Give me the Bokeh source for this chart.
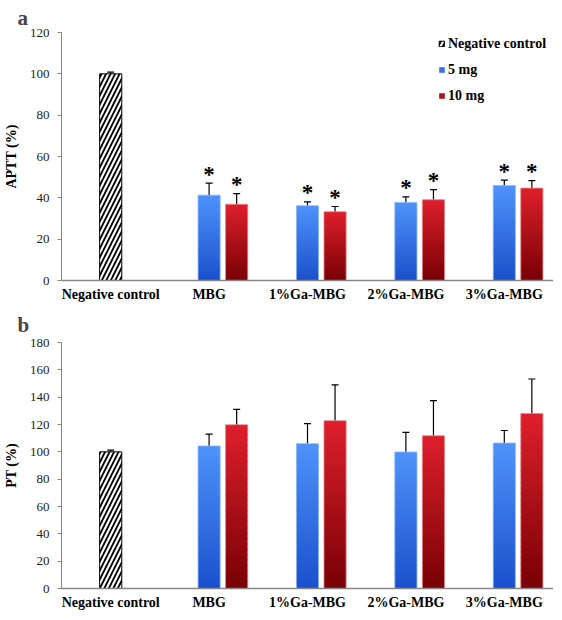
from bokeh.plotting import figure
from bokeh.models import (ColumnDataSource, FactorRange, Whisker, TeeHead, Legend,
                          LegendItem, FixedTicker)
from bokeh.transform import dodge
from bokeh.layouts import column
from bokeh.core.properties import value
from bokeh.embed import file_html
from bokeh.resources import INLINE

# ---------------- data ----------------
categories = ["Negative control", "MBG", "1%Ga-MBG", "2%Ga-MBG", "3%Ga-MBG"]
groups = ["MBG", "1%Ga-MBG", "2%Ga-MBG", "3%Ga-MBG"]
series_names = ["Negative control", "5 mg", "10 mg"]

neg_aptt = 100.0
neg_aptt_err = 0.8
aptt_5mg = [41.3, 36.2, 37.8, 46.0]
aptt_5mg_err = [5.8, 1.8, 2.7, 2.6]
aptt_10mg = [36.9, 33.3, 39.1, 44.7]
aptt_10mg_err = [5.1, 2.5, 4.9, 3.6]

neg_pt = 100.0
neg_pt_err = 1.2
pt_5mg = [104.3, 106.0, 99.9, 106.4]
pt_5mg_err = [8.7, 14.6, 14.4, 9.2]
pt_10mg = [119.8, 122.8, 111.8, 128.1]
pt_10mg_err = [11.2, 26.2, 25.7, 25.2]

aptt_ticks = [0, 20, 40, 60, 80, 100, 120]
pt_ticks = [0, 20, 40, 60, 80, 100, 120, 140, 160, 180]

# ---------------- styling ----------------
FONT = "Liberation Serif"
BLUE_TOP, BLUE_BOT = (0x4F, 0x93, 0xFA), (0x1A, 0x50, 0xCC)
RED_TOP, RED_BOT = (0xDE, 0x20, 0x2C), (0x78, 0x00, 0x04)
BAR_W = 0.225
RED_OFF = 0.28
N_SLICES = 30


def mix(c_bot, c_top, t):
    r = [round(a + (b - a) * t) for a, b in zip(c_bot, c_top)]
    return "#%02x%02x%02x" % tuple(r)


def gradient_source(cats, vals, top_c, bot_c):
    xs, bottoms, tops, cols = [], [], [], []
    for c, v in zip(cats, vals):
        for k in range(N_SLICES):
            xs.append(c)
            bottoms.append(v * k / N_SLICES)
            tops.append(min(v, v * (k + 1.4) / N_SLICES))
            cols.append(mix(bot_c, top_c, (k + 0.5) / N_SLICES))
    return ColumnDataSource(dict(x=xs, bottom=bottoms, top=tops, color=cols))


def make_panel(letter, ylabel, ymax, ticks, neg, neg_err, v5, e5, v10, e10,
               frame_h, title_standoff, stars, legend):
    p = figure(x_range=FactorRange(*categories), y_range=(0, ymax),
               frame_width=492, frame_height=frame_h, output_backend="svg",
               toolbar_location=None, min_border_left=52, min_border_right=0,
               min_border_top=0, min_border_bottom=0)
    p.title.text = letter
    p.title.text_font = FONT
    p.title.text_font_size = "21px"
    p.title.text_font_style = "bold"
    p.title.align = "left"
    p.title.offset = -44
    p.title.standoff = title_standoff

    # negative control (hatched)
    r_neg = p.vbar(x=[categories[0]], top=[neg], width=BAR_W, fill_color="white",
                   line_color="black", line_width=1, hatch_pattern="/",
                   hatch_color="black", hatch_scale=9, hatch_weight=1.8)

    # gradient bars
    s5 = gradient_source(groups, v5, BLUE_TOP, BLUE_BOT)
    s10 = gradient_source(groups, v10, RED_TOP, RED_BOT)
    r5 = p.vbar(x="x", bottom="bottom", top="top", width=BAR_W, source=s5,
                fill_color="color", line_color=None)
    r10 = p.vbar(x=dodge("x", RED_OFF, range=p.x_range), bottom="bottom", top="top",
                 width=BAR_W, source=s10, fill_color="color", line_color=None)
    # light edges
    p.vbar(x=groups, top=v5, width=BAR_W, fill_color=None,
           line_color="#8fb8f6", line_width=1, line_alpha=0.8)
    p.vbar(x=dodge("x", RED_OFF, range=p.x_range), top="top", width=BAR_W,
           fill_color=None, line_color="#e68a8e", line_width=1, line_alpha=0.8,
           source=ColumnDataSource(dict(x=groups, top=v10)))

    # error bars
    def whisk(xs, vals, errs, off):
        src = ColumnDataSource(dict(x=xs, upper=[v + e for v, e in zip(vals, errs)],
                                    lower=[v - e for v, e in zip(vals, errs)]))
        w = Whisker(base=dodge("x", off, range=p.x_range), upper="upper", lower="lower",
                    source=src, line_color="black", line_width=1.2,
                    upper_head=TeeHead(size=7, line_color="black", line_width=1.2),
                    lower_head=TeeHead(size=7, line_color="black", line_width=1.2))
        p.add_layout(w)
        return src

    whisk([categories[0]], [neg], [neg_err], 0.0)
    src5 = whisk(groups, v5, e5, 0.0)
    src10 = whisk(groups, v10, e10, RED_OFF)

    if stars:
        for src, off in ((src5, 0.0), (src10, RED_OFF)):
            p.text(x=dodge("x", off, range=p.x_range), y="upper", text=value("*"),
                   source=src, text_font=value(FONT), text_font_style="bold",
                   text_font_size="23px", text_align="center",
                   text_baseline="alphabetic", y_offset=-9, text_color="black")

    if legend:
        mid = N_SLICES // 2
        lg = Legend(items=[LegendItem(label=series_names[0], renderers=[r_neg]),
                           LegendItem(label=series_names[1], renderers=[r5], index=mid),
                           LegendItem(label=series_names[2], renderers=[r10], index=mid)],
                    location=(377, frame_h - 72), orientation="vertical",
                    glyph_width=7, glyph_height=7, label_standoff=3,
                    label_height=17, spacing=9, padding=0, margin=0,
                    background_fill_alpha=0, border_line_color=None,
                    label_text_font=FONT, label_text_font_style="bold",
                    label_text_font_size="14px", label_text_color="black")
        p.add_layout(lg)

    # axes
    p.xaxis.major_tick_line_color = None
    p.xaxis.major_tick_out = 0
    p.xaxis.major_tick_in = 0
    p.xaxis.minor_tick_line_color = None
    p.xaxis.axis_line_color = "#868686"
    p.xaxis.axis_line_width = 1.5
    p.xaxis.major_label_text_font = FONT
    p.xaxis.major_label_text_font_style = "bold"
    p.xaxis.major_label_text_font_size = "14px"
    p.xaxis.major_label_text_color = "black"
    p.xaxis.major_label_standoff = 6

    p.yaxis.ticker = FixedTicker(ticks=ticks)
    p.yaxis.axis_line_color = "#868686"
    p.yaxis.major_tick_line_color = "#868686"
    p.yaxis.major_tick_out = 4
    p.yaxis.major_tick_in = 0
    p.yaxis.minor_tick_line_color = None
    p.yaxis.major_label_text_font = FONT
    p.yaxis.major_label_text_font_size = "13px"
    p.yaxis.major_label_text_color = "#222222"
    p.yaxis.major_label_standoff = 8
    p.yaxis.axis_label = ylabel
    p.yaxis.axis_label_text_font = FONT
    p.yaxis.axis_label_text_font_style = "bold"
    p.yaxis.axis_label_text_font_size = "14px"
    p.yaxis.axis_label_text_color = "black"
    p.yaxis.axis_label_standoff = 8

    p.xgrid.grid_line_color = None
    p.ygrid.grid_line_color = None
    p.outline_line_color = None
    p.background_fill_color = "white"
    return p


pa = make_panel("a", "APTT (%)", 120, aptt_ticks, neg_aptt, neg_aptt_err,
                aptt_5mg, aptt_5mg_err, aptt_10mg, aptt_10mg_err,
                frame_h=248, title_standoff=6, stars=True, legend=True)
pb = make_panel("b", "PT (%)", 180, pt_ticks, neg_pt, neg_pt_err,
                pt_5mg, pt_5mg_err, pt_10mg, pt_10mg_err,
                frame_h=246, title_standoff=12, stars=False, legend=False)

layout = column(pa, pb, spacing=0)
open("out.html", "w").write(file_html(layout, INLINE))
